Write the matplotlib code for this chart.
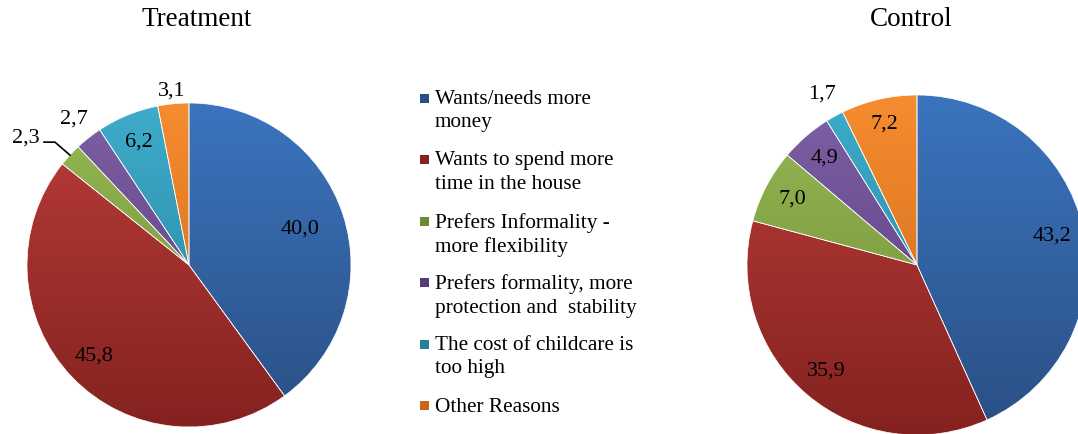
import numpy as np
import matplotlib
matplotlib.use("Agg")
import matplotlib.pyplot as plt
from matplotlib.colors import LinearSegmentedColormap
from matplotlib.patches import Rectangle

plt.rcParams['font.family'] = ['Liberation Serif', 'DejaVu Serif']

# data
categories = ["Wants/needs more\nmoney",
              "Wants to spend more\ntime in the house",
              "Prefers Informality -\nmore flexibility",
              "Prefers formality, more\nprotection and  stability",
              "The cost of childcare is\ntoo high",
              "Other Reasons"]
treatment = [40.0, 45.8, 2.3, 2.7, 6.2, 3.1]
control = [43.2, 35.9, 7.0, 4.9, 1.7, 7.2]

# colours (light top / dark bottom of the gradient)
base_colors = ["#3a6fb5", "#a83431", "#88aa44", "#6d4f95", "#33a0c0", "#ee8428"]
top_colors = ["#3b74be", "#bb3d3a", "#98b955", "#7e60a4", "#3eaccb", "#f68c30"]
bot_colors = ["#2a4f84", "#84221f", "#6b8a32", "#553a7c", "#267f99", "#c9661a"]

W, H = 1078, 434
fig = plt.figure(figsize=(W / 100, H / 100), dpi=100)
ax = fig.add_axes([0, 0, 1, 1])


def draw_pie(values, cx, cy, r, label_dist):
    wedges, _ = ax.pie(values, colors=base_colors, startangle=90, counterclock=False,
                       center=(cx, cy), radius=r,
                       wedgeprops=dict(edgecolor="white", linewidth=0.5))
    grad = np.linspace(0, 1, 256)[:, None]
    for w, tc, bc in zip(wedges, top_colors, bot_colors):
        cmap = LinearSegmentedColormap.from_list("g", [bc, tc])
        im = ax.imshow(grad, cmap=cmap, extent=(cx - r, cx + r, cy - r, cy + r),
                       origin="lower", aspect="auto", zorder=1)
        im.set_clip_path(w)
        w.set_facecolor("none")
        w.set_zorder(2)
    pos = []
    for w, v, d in zip(wedges, values, label_dist):
        a = np.deg2rad((w.theta1 + w.theta2) / 2)
        x, y = cx + d * r * np.cos(a), cy + d * r * np.sin(a)
        pos.append((x, y, a))
    return wedges, pos


def fmt(v):
    return f"{v:.1f}".replace(".", ",")


LABEL_FS = 16

# Treatment pie
t_cx, t_cy, t_r = 189, H - 265, 162
t_dist = [0.72, 0.81, 1.0, 1.15, 0.82, 1.08]
_, tpos = draw_pie(treatment, t_cx, t_cy, t_r, t_dist)
for i, (x, y, a) in enumerate(tpos):
    if i == 2:
        # leader line for the small slice
        ex, ey = x, y
        px = [ex, ex - 15, ex - 26]
        py = [ey, ey + 13, ey + 13]
        ax.plot(px, py, color="black", lw=1.2, zorder=3)
        ax.text(px[-1] - 4, py[-1] + 4, fmt(treatment[i]), ha="right", va="center",
                fontsize=LABEL_FS, zorder=4)
    else:
        ax.text(x, y, fmt(treatment[i]), ha="center", va="center", fontsize=LABEL_FS, zorder=4)

# Control pie
c_cx, c_cy, c_r = 917, H - 265, 170
c_dist = [0.81, 0.82, 0.83, 0.83, 1.15, 0.85]
_, cpos = draw_pie(control, c_cx, c_cy, c_r, c_dist)
for i, (x, y, a) in enumerate(cpos):
    ax.text(x, y, fmt(control[i]), ha="center", va="center", fontsize=LABEL_FS, zorder=4)

# titles
ax.text(197, H - 19, "Treatment", ha="center", va="center", fontsize=19.5)
ax.text(911, H - 19, "Control", ha="center", va="center", fontsize=19.5)

# legend
for i, (lab, tc, bc) in enumerate(zip(categories, top_colors, bot_colors)):
    yc = H - 98 - i * 61.5
    ax.add_patch(Rectangle((420, yc - 4.5), 9, 9, facecolor=bc, edgecolor="none"))
    ax.text(435, yc + 8, lab, ha="left", va="top", fontsize=15.3, linespacing=1.3)

ax.set_xlim(0, W)
ax.set_ylim(0, H)
ax.set_aspect("auto")
ax.axis("off")

fig.savefig("out.png", dpi=100)
